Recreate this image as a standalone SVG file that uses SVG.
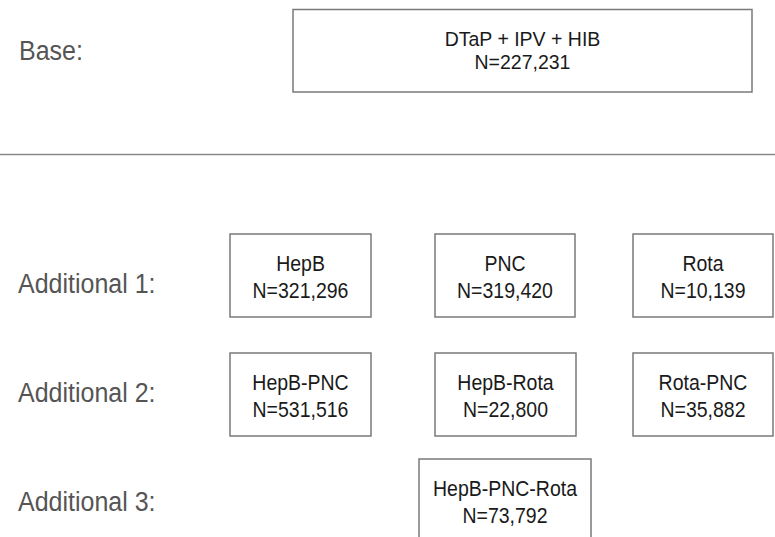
<svg xmlns="http://www.w3.org/2000/svg" width="775" height="537" viewBox="0 0 775 537">
<style>
.box{fill:#fff;stroke:#7a7a7a;stroke-width:1.5}
.t{font-family:"Liberation Sans",Arial,sans-serif;font-size:19.5px;fill:#1a1a1a;text-anchor:middle}
.lbl{font-family:"Liberation Sans",Arial,sans-serif;font-size:25px;fill:#555}
</style>
<rect width="775" height="537" fill="#fff"/>
<text class="lbl" transform="translate(19,60) scale(1,1.08)">Base:</text>
<text class="lbl" transform="translate(18,293) scale(1,1.08)">Additional 1:</text>
<text class="lbl" transform="translate(18,402) scale(1,1.08)">Additional 2:</text>
<text class="lbl" transform="translate(18,511) scale(1,1.08)">Additional 3:</text>
<g id="divider"><line x1="0" y1="154.5" x2="775" y2="154.5" stroke="#888" stroke-width="1.5"/></g>
<g id="connectors"></g>
<g id="base"><rect class="box" x="293" y="9.5" width="459" height="82.5"/><text class="t" transform="translate(522.5,46) scale(1,1.05)">DTaP + IPV + HIB</text><text class="t" transform="translate(522.5,69) scale(1,1.05)">N=227,231</text></g>
<g id="hepb"><rect class="box" x="230" y="234" width="141" height="83"/><text class="t" transform="translate(300.5,271) scale(1,1.15)">HepB</text><text class="t" transform="translate(300.5,298) scale(1,1.15)">N=321,296</text></g>
<g id="pnc"><rect class="box" x="435" y="234" width="140" height="83"/><text class="t" transform="translate(505,271) scale(1,1.15)">PNC</text><text class="t" transform="translate(505,298) scale(1,1.15)">N=319,420</text></g>
<g id="rota"><rect class="box" x="633" y="234" width="140" height="83"/><text class="t" transform="translate(703,271) scale(1,1.15)">Rota</text><text class="t" transform="translate(703,298) scale(1,1.15)">N=10,139</text></g>
<g id="hepb-pnc"><rect class="box" x="230" y="353" width="141" height="83"/><text class="t" transform="translate(300.5,390) scale(1,1.15)">HepB-PNC</text><text class="t" transform="translate(300.5,417) scale(1,1.15)">N=531,516</text></g>
<g id="hepb-rota"><rect class="box" x="435" y="353" width="141" height="83"/><text class="t" transform="translate(505.5,390) scale(1,1.15)">HepB-Rota</text><text class="t" transform="translate(505.5,417) scale(1,1.15)">N=22,800</text></g>
<g id="rota-pnc"><rect class="box" x="633" y="353" width="140" height="83"/><text class="t" transform="translate(703,390) scale(1,1.15)">Rota-PNC</text><text class="t" transform="translate(703,417) scale(1,1.15)">N=35,882</text></g>
<g id="hepb-pnc-rota"><rect class="box" x="419" y="459" width="172" height="90"/><text class="t" transform="translate(505,496) scale(1,1.15)">HepB-PNC-Rota</text><text class="t" transform="translate(505,523) scale(1,1.15)">N=73,792</text></g>
</svg>
